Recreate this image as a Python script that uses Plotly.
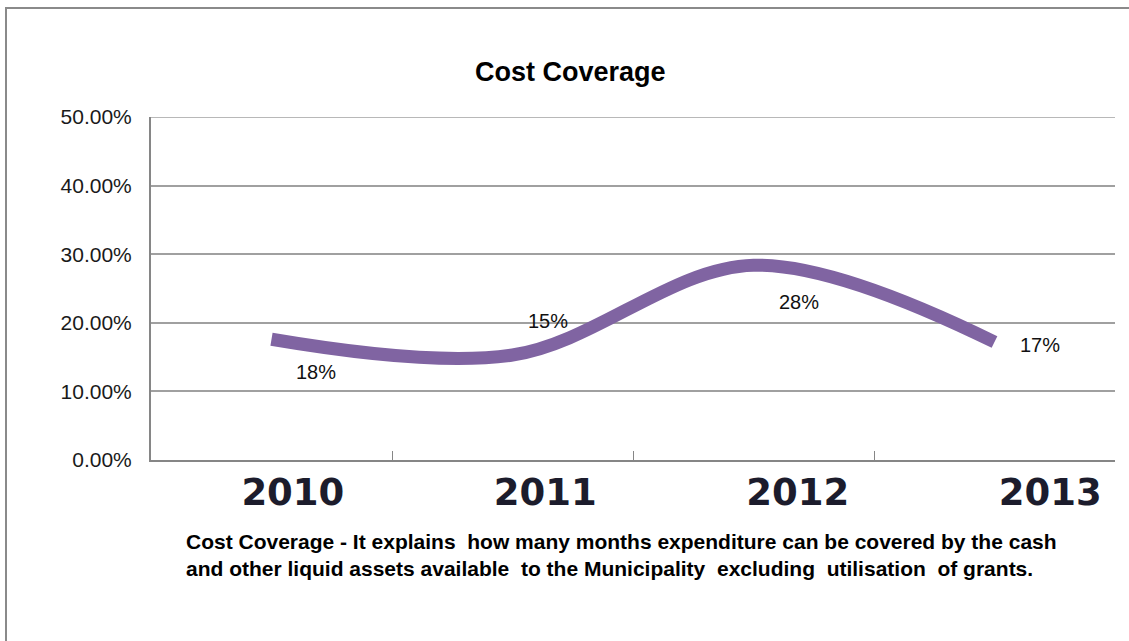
import plotly.graph_objects as go

# Cost coverage ratio per financial year
years = ["2010", "2011", "2012", "2013"]
coverage = [0.176, 0.153, 0.284, 0.172]

# where each data label sits relative to its point (pixels)
label_dx = [44, 35, 45, 45]
label_dy = [-33, 34, -37, -3]

title_text = "Cost Coverage"
caption_lines = [
    "Cost Coverage - It explains\u00a0 how many months expenditure can be covered by the cash",
    "and other liquid assets available\u00a0 to the Municipality\u00a0 excluding\u00a0 utilisation\u00a0 of grants.",
]

W, H = 1129, 641
L, R, T, B = 151, 14, 117, 181
plot_w = W - L - R
plot_h = H - T - B


def px_x(px):
    return (px - L) / plot_w


def px_y(py):
    return (H - B - py) / plot_h


fig = go.Figure()

fig.add_trace(
    go.Scatter(
        x=years,
        y=coverage,
        mode="lines",
        line=dict(color="#8064A2", width=13, shape="spline", smoothing=1.0),
        hoverinfo="skip",
        showlegend=False,
    )
)

# invisible companion trace so the year labels live on their own axis
fig.add_trace(
    go.Scatter(
        x=years,
        y=coverage,
        xaxis="x2",
        mode="lines",
        line=dict(width=0),
        opacity=0,
        hoverinfo="skip",
        showlegend=False,
    )
)

# data labels, anchored to each point by category index
for i, (v, dx, dy) in enumerate(zip(coverage, label_dx, label_dy)):
    fig.add_annotation(
        x=i,
        y=v,
        xref="x",
        yref="y",
        text=f"{round(v * 100):.0f}%",
        showarrow=False,
        xshift=dx,
        yshift=dy,
        font=dict(family="Liberation Sans, Arial, sans-serif", size=20, color="#111111"),
    )

fig.add_annotation(
    x=px_x(570),
    y=px_y(55),
    xref="paper",
    yref="paper",
    text=f"<b>{title_text}</b>",
    showarrow=False,
    font=dict(family="Liberation Sans, Arial, sans-serif", size=27, color="#000000"),
)

fig.add_annotation(
    x=px_x(184),
    y=px_y(528),
    xref="paper",
    yref="paper",
    xanchor="left",
    yanchor="top",
    align="left",
    text="<b>" + "<br>".join(caption_lines) + "</b>",
    showarrow=False,
    font=dict(family="Liberation Sans, Arial, sans-serif", size=21, color="#000000"),
)

# outer chart frame (left and top edges)
fig.add_shape(
    type="path",
    xref="paper",
    yref="paper",
    path=f"M {px_x(6)},{px_y(660)} L {px_x(6)},{px_y(8)} L {px_x(1140)},{px_y(8)}",
    line=dict(color="#8a8a8a", width=2),
)

# top gridline at the 50% ceiling
fig.add_shape(
    type="line",
    xref="paper",
    yref="y",
    x0=0,
    x1=1,
    y0=0.5,
    y1=0.5,
    layer="below",
    line=dict(color="#a0a0a0", width=1.5),
)

fig.update_layout(
    width=W,
    height=H,
    margin=dict(l=L, r=R, t=T, b=B),
    paper_bgcolor="white",
    plot_bgcolor="white",
    xaxis=dict(
        type="category",
        range=[-0.5, 3.5],
        showgrid=False,
        showline=True,
        linecolor="#868686",
        linewidth=2,
        ticks="inside",
        tickson="boundaries",
        ticklen=9,
        tickcolor="#868686",
        tickwidth=1,
        showticklabels=False,
        zeroline=False,
    ),
    xaxis2=dict(
        type="category",
        overlaying="x",
        anchor="y",
        side="bottom",
        range=[-0.562, 3.257],
        showgrid=False,
        showline=False,
        ticks="",
        tickfont=dict(family="DejaVu Sans, Verdana, sans-serif", size=37,
                      color="#1c1c2c", weight="bold"),
        ticklabelstandoff=7,
        zeroline=False,
    ),
    yaxis=dict(
        range=[0, 0.5],
        dtick=0.1,
        tickformat=".2%",
        showgrid=True,
        gridcolor="#a0a0a0",
        gridwidth=1.5,
        showline=True,
        linecolor="#868686",
        linewidth=2,
        ticks="",
        ticklabelstandoff=13,
        tickfont=dict(family="Liberation Sans, Arial, sans-serif", size=21, color="#1a1a1a"),
        zeroline=False,
    ),
)

fig.write_html("out.html")
